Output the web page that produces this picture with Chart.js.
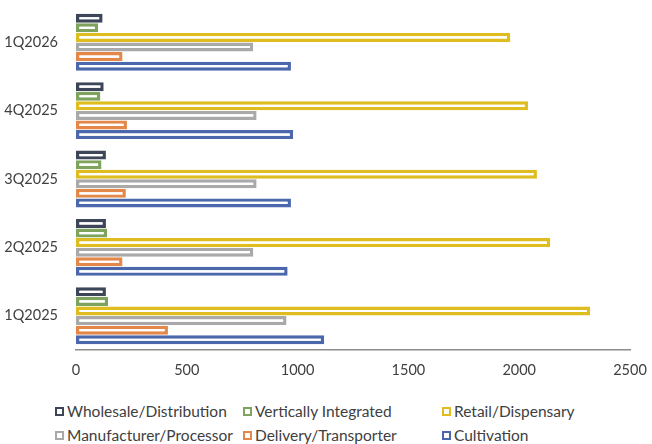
<!DOCTYPE html>
<html>
<head>
<meta charset="utf-8">
<script src="https://cdn.jsdelivr.net/npm/chart.js@4.4.1/dist/chart.umd.min.js"></script>
<style>
  html, body { margin: 0; padding: 0; background: #ffffff; }
  #wrap { position: relative; width: 652px; height: 444px; overflow: hidden; }
  #chart { position: absolute; left: 0; top: 0; }
  #legend { position: absolute; left: 0; top: 400px; width: 652px; height: 44px;
            font-family: Lato, "Open Sans", sans-serif; font-size: 15.5px; color: #404040; }
  .item { position: absolute; display: flex; align-items: center; white-space: nowrap; height: 20px; }
  .box { width: 5px; height: 5px; border: 2px solid; background: #ffffff; margin-right: 3px; }
</style>
</head>
<body>
<div id="wrap">
  <canvas id="chart" width="652" height="390"></canvas>
  <div id="legend"></div>
</div>
<script>
// Quarters, oldest first (axis is reversed so the newest sits on top)
const quarters = ['1Q2025', '2Q2025', '3Q2025', '4Q2025', '1Q2026'];

// License counts per segment, one value per quarter
const wholesale     = [135, 135, 135, 125, 120];
const vertical      = [145, 140, 115, 110, 100];
const retail        = [2320, 2140, 2080, 2040, 1960];
const manufacturer  = [950, 800, 815, 815, 800];
const delivery      = [415, 210, 225, 230, 210];
const cultivation   = [1120, 955, 970, 980, 970];

const seriesNames  = ['Wholesale/Distribution', 'Vertically Integrated', 'Retail/Dispensary',
                      'Manufacturer/Processor', 'Delivery/Transporter', 'Cultivation'];
const seriesValues = [wholesale, vertical, retail, manufacturer, delivery, cultivation];
const seriesColors = ['#3d4659', '#7ea35c', '#e0bd1e', '#a9a9a9', '#e4884a', '#4c68ad'];

const xTicks = [0, 500, 1000, 1500, 2000, 2500];

const datasets = seriesNames.map((name, i) => ({
  label: name,
  data: seriesValues[i],
  backgroundColor: '#ffffff',
  borderColor: seriesColors[i],
  borderWidth: 3.4,
  borderSkipped: false,
  categoryPercentage: 0.84,
  barPercentage: 0.94
}));

const tickFont = { family: 'Lato', size: 14.5 };

const chart = new Chart(document.getElementById('chart'), {
  type: 'bar',
  data: { labels: quarters, datasets },
  options: {
    indexAxis: 'y',
    responsive: false,
    animation: false,
    layout: { padding: { left: 0, right: 22, top: 8, bottom: 0 } },
    plugins: { legend: { display: false }, tooltip: { enabled: false } },
    scales: {
      y: {
        reverse: true,
        grid: { display: false, drawTicks: false },
        border: { display: false },
        ticks: { color: '#404040', padding: 18, font: tickFont },
        afterFit(scale) {
          scale.width = 76;
          scale.paddingTop = 0;
          scale.paddingBottom = 0;
        }
      },
      x: {
        min: 0,
        max: 2500,
        afterBuildTicks(scale) { scale.ticks = xTicks.map(v => ({ value: v })); },
        grid: { display: false, drawTicks: false },
        border: { display: true, color: '#8c8c8c', width: 1.5 },
        ticks: { color: '#404040', padding: 12, font: tickFont, callback: v => String(v) },
        afterFit(scale) {
          scale.height = 40;
          scale.paddingLeft = 0;
          scale.paddingRight = 0;
        }
      }
    }
  }
});

// Legend in two rows of three, built from the chart's datasets
const legend = document.getElementById('legend');
const colX = [55, 243, 442];
const rowY = [1, 25];
chart.data.datasets.forEach((ds, i) => {
  const item = document.createElement('div');
  item.className = 'item';
  item.style.left = colX[i % 3] + 'px';
  item.style.top = rowY[Math.floor(i / 3)] + 'px';
  const box = document.createElement('span');
  box.className = 'box';
  box.style.borderColor = ds.borderColor;
  const text = document.createElement('span');
  text.textContent = ds.label;
  item.appendChild(box);
  item.appendChild(text);
  legend.appendChild(item);
});
</script>
</body>
</html>
